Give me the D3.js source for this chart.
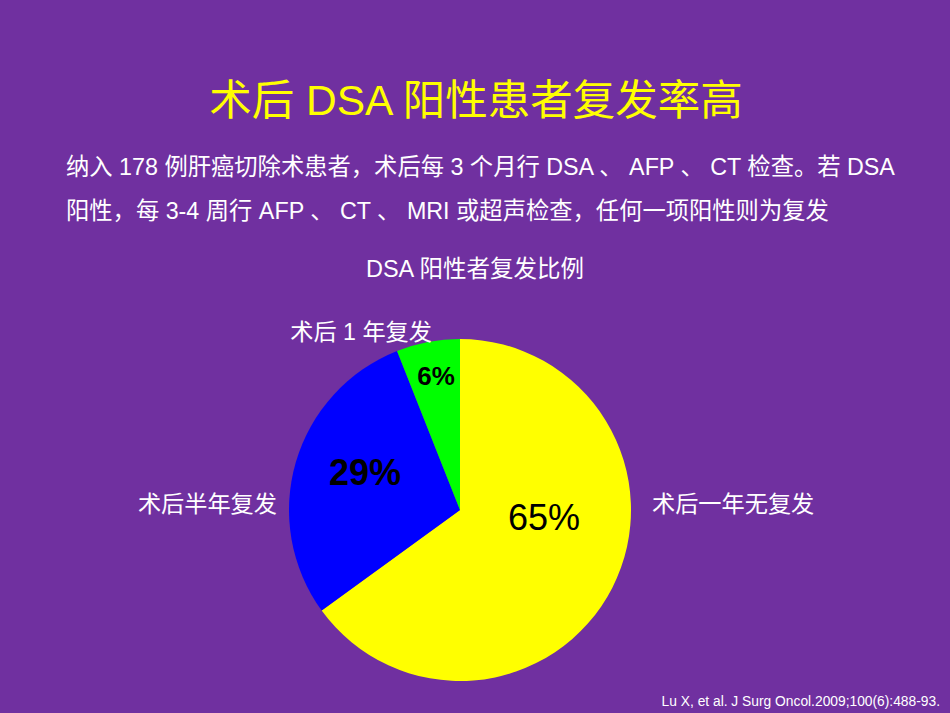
<!DOCTYPE html>
<html><head><meta charset="utf-8">
<script src="https://cdn.jsdelivr.net/npm/d3@7"></script>
<style>
html,body{margin:0;padding:0;background:#7030A0;}
svg{display:block;font-family:"Liberation Sans",Arial,"Noto Sans CJK SC",sans-serif;}
</style></head><body>
<svg id="c" width="950" height="713"></svg>
<script>
const categories = ["术后一年无复发", "术后半年复发", "术后 1 年复发"];
const values = [65, 29, 6];
const pctLabels = ["65%", "29%", "6%"];
const colors = ["#FFFF00", "#0000FF", "#00FF00"];
const bodyLines = [
  "纳入 178 例肝癌切除术患者，术后每 3 个月行 DSA 、 AFP 、 CT 检查。若 DSA",
  "阳性，每 3-4 周行 AFP 、 CT 、 MRI 或超声检查，任何一项阳性则为复发"
];

const svg = d3.select("#c");
svg.append("rect").attr("width",950).attr("height",713).attr("fill","#7030A0");

svg.append("text").attr("x",476).attr("y",115).attr("text-anchor","middle")
  .attr("fill","#FFFF00").attr("font-size",42.5).text("术后 DSA 阳性患者复发率高");

const body = svg.append("text").attr("fill","#fff").attr("font-size",23.3);
bodyLines.forEach((t,i)=>{
  body.append("tspan").attr("x",66).attr("y",175+i*44).text(t);
});

svg.append("text").attr("x",475).attr("y",277).attr("text-anchor","middle")
  .attr("fill","#fff").attr("font-size",23.5).text("DSA 阳性者复发比例");

const cx=460, cy=510, r=171;
const g = svg.append("g").attr("transform",`translate(${cx},${cy})`);
const pie = d3.pie().sort(null).value(d=>d)(values);
const arc = d3.arc().innerRadius(0).outerRadius(r);
g.selectAll("path").data(pie).join("path").attr("d",arc)
  .attr("fill",(d,i)=>colors[i]);

// percentage labels
const pctPos = [[84,7],[-95,-38],[-24,-134]];
const pctSize = [36,36,26];
const pctWeight = ["normal","bold","bold"];
pie.forEach((d,i)=>{
  g.append("text").attr("x",pctPos[i][0]).attr("y",pctPos[i][1])
   .attr("text-anchor","middle").attr("dominant-baseline","central")
   .attr("font-size",pctSize[i]).attr("font-weight",pctWeight[i])
   .attr("fill","#000").text(pctLabels[i]);
});

// category labels
const catPos = [[652,512,"start"],[277,512,"end"],[432,340,"end"]];
categories.forEach((t,i)=>{
  svg.append("text").attr("x",catPos[i][0]).attr("y",catPos[i][1])
    .attr("text-anchor",catPos[i][2]).attr("fill","#fff").attr("font-size",23.2).text(t);
});

svg.append("text").attr("x",940).attr("y",706).attr("text-anchor","end")
  .attr("fill","#fff").attr("font-size",13.8).text("Lu X, et al. J Surg Oncol.2009;100(6):488-93.");
</script>
</body></html>
